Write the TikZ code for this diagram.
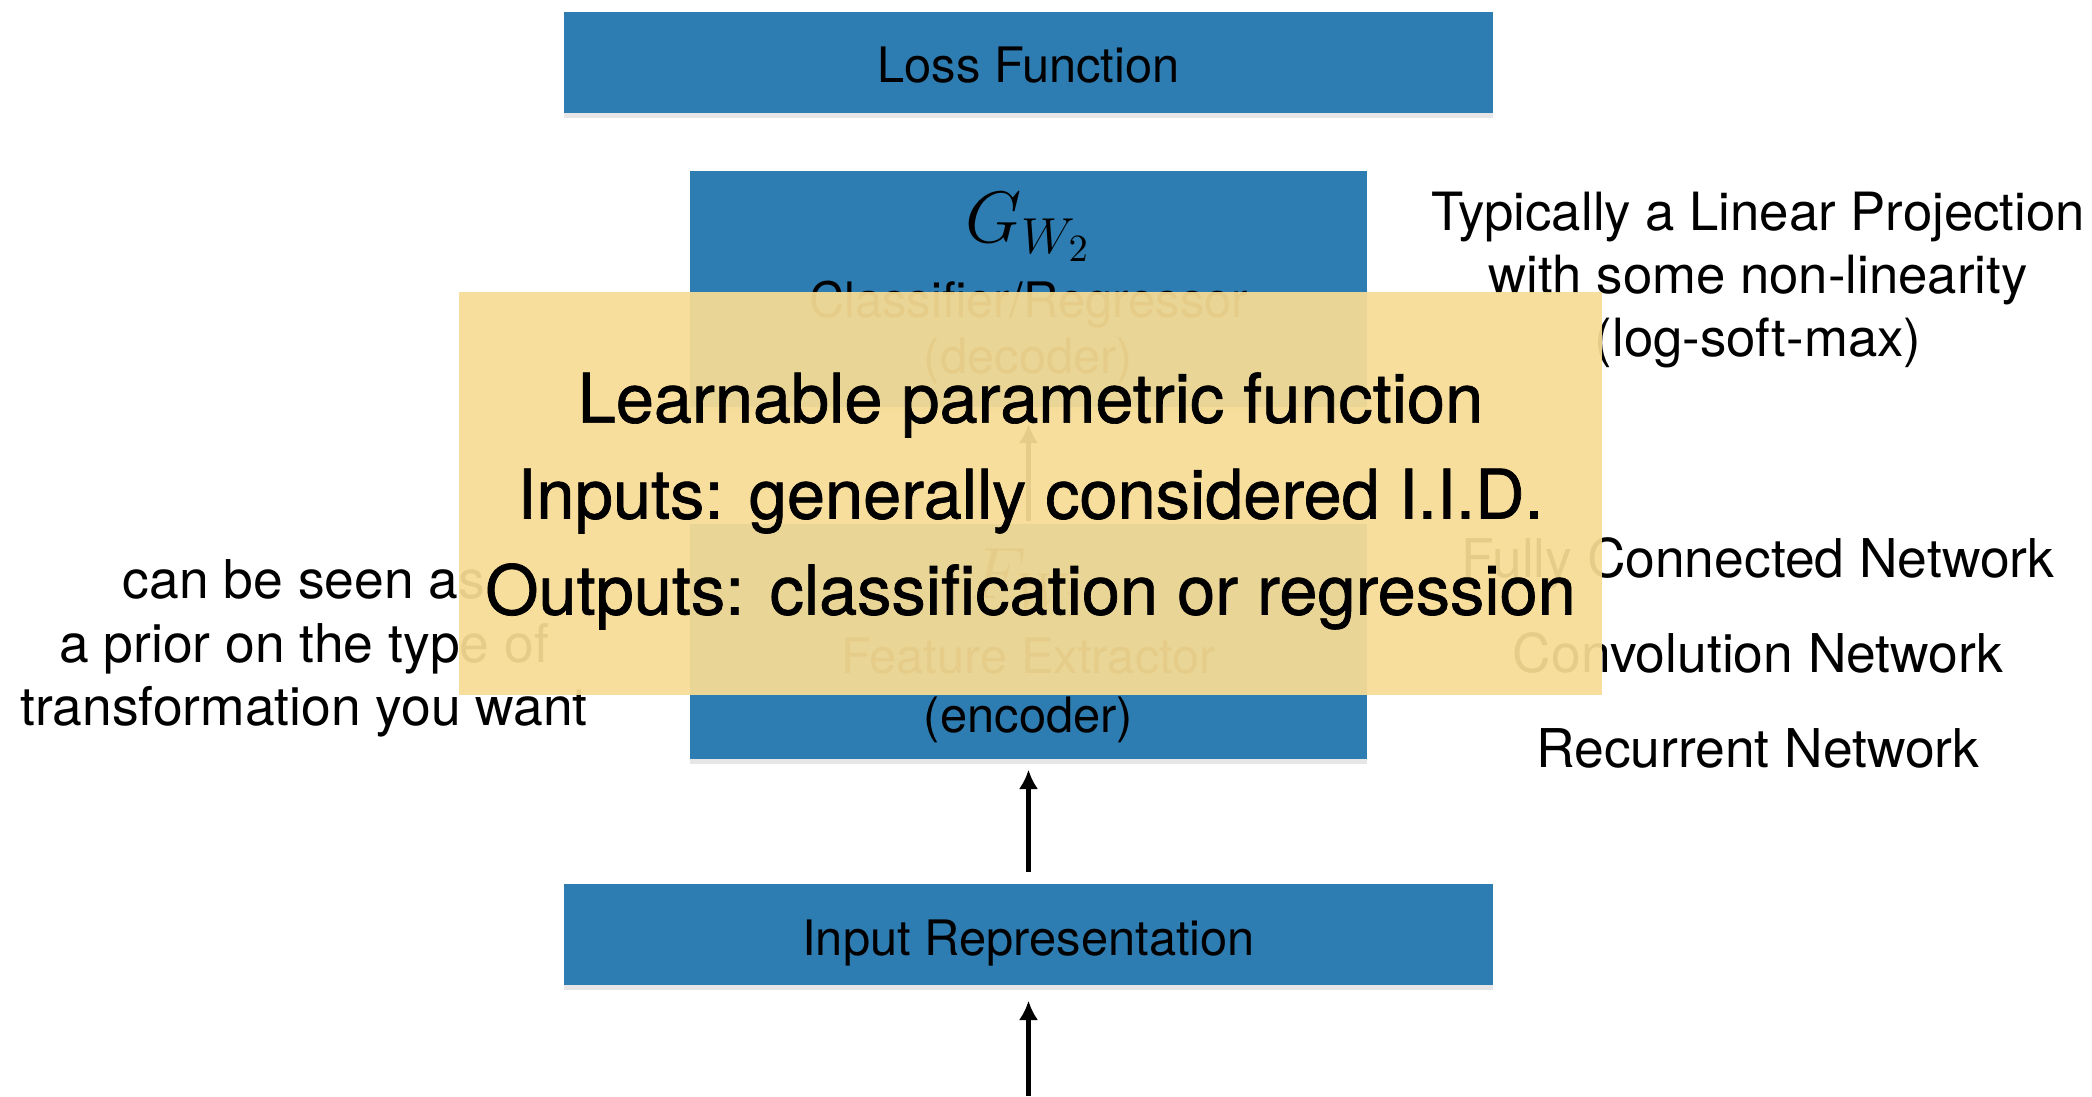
\documentclass[tikz,border=0pt]{standalone}
\usepackage[no-math]{fontspec}
\setmainfont{TeX Gyre Heros}
\newfontfamily\notefont{TeX Gyre Heros}[FakeBold=1]
\usetikzlibrary{positioning,arrows.meta,shadows}
\definecolor{boxblue}{HTML}{2E7DB2}
\definecolor{notecream}{RGB}{248,220,148}
\tikzset{
  block/.style={fill=boxblue, inner sep=0pt, font=\fontsize{13.9}{16}\selectfont,
    drop shadow={shadow xshift=0pt, shadow yshift=-0.05cm, opacity=0.2}},
  wideblock/.style={block, minimum width=9.29cm, minimum height=1.01cm,
    text height=0.41cm, text depth=0pt},
  midblock/.style={block, minimum width=6.77cm, minimum height=2.35cm},
  boxtext/.style={anchor=base, inner sep=0pt, font=\fontsize{13.9}{16}\selectfont},
  symtext/.style={anchor=base, inner sep=0pt, font=\fontsize{21}{25}\selectfont},
  sidetext/.style={align=center, inner sep=0pt, font=\fontsize{15}{17.8}\selectfont},
  note/.style={fill=notecream, fill opacity=0.93, text opacity=1, align=center,
    minimum width=11.43cm, minimum height=4.03cm, inner sep=0pt,
    font=\notefont\fontsize{19.5}{27.3}\selectfont},
  flow/.style={-{Latex[length=5.5pt,width=5.5pt]}, line width=1.3pt},
}
\begin{document}
\begin{tikzpicture}
  \useasboundingbox (0,0) rectangle (20.92,10.96);

  %Boxes
  \node[wideblock] at (10.285,10.335) (Loss) {Loss Function};
  \node[midblock, minimum height=2.36cm] at (10.285,8.07) (G) {};
  \node[midblock] at (10.285,4.545) (F) {};
  \node[wideblock] at (10.285,1.615) (In) {Input Representation};
  \coordinate (src) at (10.285,0);

  %Box labels
  \node[symtext] at (10.285,8.53) (Gsym) {$G_{W_2}$};
  \node[boxtext] at (10.285,7.78) (Gname) {Classifier/Regressor};
  \node[boxtext] at (10.285,7.22) (Gpart) {(decoder)};
  \node[symtext] at (10.285,4.98) (Fsym) {$F_{W_1}$};
  \node[boxtext] at (10.285,4.23) (Fname) {Feature Extractor};
  \node[boxtext] at (10.285,3.64) (Fpart) {(encoder)};

  %Lines
  \draw[flow, shorten >=0.15cm] (src) -- (In);
  \draw[flow, shorten <=0.11cm, shorten >=0.1cm] (In) -- (F);
  \draw[flow, shorten <=0.02cm, shorten >=0.16cm] (F) -- (G);

  %Side notes
  \node[sidetext, font=\fontsize{15.2}{18.1}\selectfont] at (3.04,4.475) (prior)
    {can be seen as\\a prior on the type of\\transformation you want};
  \node[sidetext] at (17.58,8.16) (proj)
    {Typically a Linear Projection\\with some non-linearity\\(log-soft-max)};
  \node[sidetext, font=\fontsize{15.2}{27}\selectfont] at (17.58,4.43) (nets)
    {Fully Connected Network\\Convolution Network\\Recurrent Network};

  %Overlay
  \node[note, text depth=0pt] at (10.305,6.025) (summary)
    {Learnable parametric function\\Inputs: generally considered I.I.D.\\Outputs: classification or regression};
\end{tikzpicture}
\end{document}
